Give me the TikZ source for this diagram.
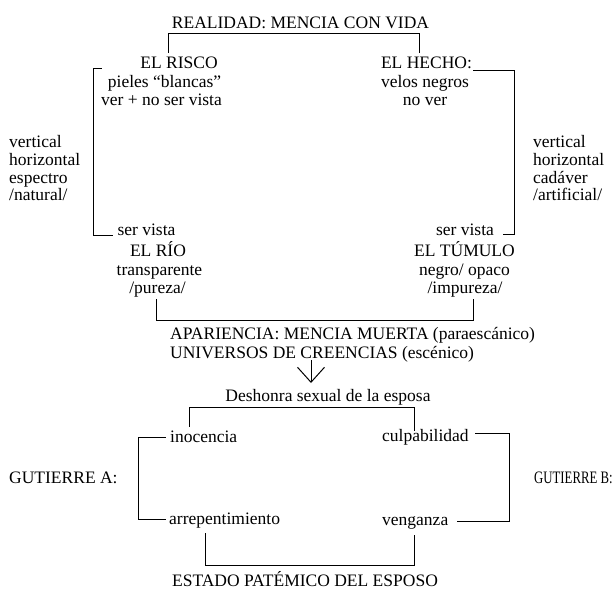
\documentclass[tikz,border=0pt]{standalone}
\usepackage{fontspec}
\setmainfont{Liberation Serif}
\usetikzlibrary{arrows.meta}
\begin{document}
\begin{tikzpicture}[x=1pt,y=-1pt,
  every node/.style={inner sep=0pt,font=\fontsize{17.5}{20}\selectfont},
  ctr/.style={anchor=base},
  lft/.style={anchor=base west},
  ln/.style={line width=1pt,line cap=rect},
  arr/.style={line width=1pt,-{Straight Barb[length=15pt,width=27pt,line width=1pt]}}]
\useasboundingbox[fill=white] (0,0) rectangle (614,589);
% top part
\node[ctr] (realidad) at (300.5,28) {REALIDAD: MENCIA CON VIDA};
\node[ctr] (risco) at (179,68) {EL RISCO};
\node[ctr] (pieles) at (164.5,87) {pieles “blancas”};
\node[ctr] (ver) at (161.5,105) {ver + no ser vista};
\node[ctr] (hecho) at (426.5,68) {EL HECHO:};
\node[ctr] (velos) at (425,87) {velos negros};
\node[ctr] (nover) at (425,105) {no ver};
% side labels
\node[lft] (l1) at (9,147) {vertical};
\node[lft] (l2) at (9,165) {horizontal};
\node[lft] (l3) at (9,183) {espectro};
\node[lft] (l4) at (9,200) {/natural/};
\node[lft] (r1) at (533,147) {vertical};
\node[lft] (r2) at (533,165) {horizontal};
\node[lft] (r3) at (533,183) {cadáver};
\node[lft] (r4) at (533,200) {/artificial/};
% middle
\node[ctr] (servl) at (146.5,235) {ser vista};
\node[ctr] (rio) at (158,256) {EL RÍO};
\node[ctr] (transp) at (159.5,275) {transparente};
\node[ctr] (pureza) at (157.5,293) {/pureza/};
\node[ctr] (servr) at (465,235) {ser vista};
\node[ctr] (tumulo) at (464.5,256) {EL TÚMULO};
\node[ctr] (negro) at (464.5,275) {negro/ opaco};
\node[ctr] (impureza) at (465,293) {/impureza/};
\node[lft] (apar) at (170,339) {APARIENCIA: MENCIA MUERTA (paraescánico)};
\node[lft] (univ) at (170,358) {UNIVERSOS DE CREENCIAS (escénico)};
\node[ctr] (deshonra) at (328,401) {Deshonra sexual de la esposa};
% bottom
\node[lft] (inoc) at (170,442) {inocencia};
\node[lft] (arrep) at (169,524) {arrepentimiento};
\node[lft] (culpa) at (382,441) {culpabilidad};
\node[lft] (venga) at (382,525) {venganza};
\node[lft] (gutA) at (9,483) {GUTIERRE A:};
\node[lft] (gutB) at (534,483) {\scalebox{0.73}[1]{GUTIERRE B:}};
\node[ctr] (estado) at (305,586) {ESTADO PATÉMICO DEL ESPOSO};
% coordinates
\coordinate (a1) at (168,52); \coordinate (a2) at (419,52);
\coordinate (b1) at (101,68); \coordinate (b2) at (112,235); \coordinate (bx) at (93,0);
\coordinate (c1) at (473,70); \coordinate (c2) at (503,234); \coordinate (cx) at (514,0);
\coordinate (d1) at (156,299); \coordinate (d2) at (473,299);
\coordinate (e1) at (311,360); \coordinate (e2) at (311,383);
\coordinate (f1) at (189,426); \coordinate (f2) at (414,430);
\coordinate (g1) at (165,437); \coordinate (g2) at (165,519); \coordinate (gx) at (138,0);
\coordinate (h1) at (475,433); \coordinate (h2) at (457,521); \coordinate (hx) at (509,0);
\coordinate (k1) at (205,533); \coordinate (k2) at (414,535);
% connectors
\draw[ln] (a1) -- (168,33) -- (419,33) -- (a2);
\draw[ln] (b1) -- (b1 -| bx) -- (b2 -| bx) -- (b2);
\draw[ln] (c1) -- (c1 -| cx) -- (c2 -| cx) -- (c2);
\draw[ln] (d1) -- (156,320) -- (473,320) -- (d2);
\draw[arr] (e1) -- (e2);
\draw[ln] (f1) -- (189,407) -- (414,407) -- (f2);
\draw[ln] (g1) -- (g1 -| gx) -- (g2 -| gx) -- (g2);
\draw[ln] (h1) -- (h1 -| hx) -- (h2 -| hx) -- (h2);
\draw[ln] (k1) -- (205,565) -- (414,565) -- (k2);
\end{tikzpicture}
\end{document}
